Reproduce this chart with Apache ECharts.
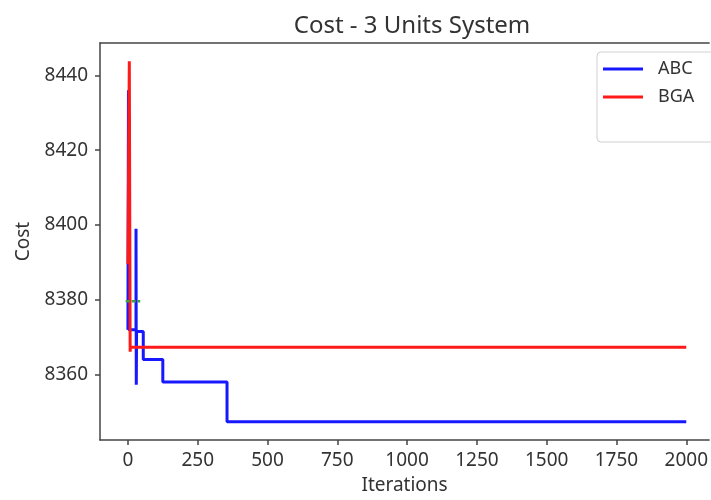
<!DOCTYPE html>
<html lang="en">
<head>
    <meta charset="UTF-8">
    <title>Cost - 3 Units System</title>
    <script src="https://cdn.jsdelivr.net/npm/echarts@6.0.0/dist/echarts.min.js"></script>
    <style>
        body, html {
            margin: 0;
            padding: 0;
            width: 100%;
            height: 100%;
            overflow: hidden;
            background-color: #fff;
        }
        #container {
            width: 711px;
            height: 500px;
        }
    </style>
</head>
<body>
    <div id="container"></div>
    <script>
        // 数据：迭代次数 / 成本（从图上读取的阶梯点）
        var abcIter = [0, 2, 3, 29, 30, 31, 55, 125, 355, 2000];
        var abcCost = [8372, 8436, 8372, 8399, 8357.3, 8371.5, 8364, 8358, 8347.4, 8347.4];

        var bgaIter = [0, 5, 8, 9, 2000];
        var bgaCost = [8389.5, 8443.8, 8366.1, 8367.3, 8367.3];

        // 绿色的短线（没有图例）
        var greenIter = [-8, 44];
        var greenCost = [8379.6, 8379.6];

        var xTicks = [0, 250, 500, 750, 1000, 1250, 1500, 1750, 2000];
        var yTicks = [8360, 8380, 8400, 8420, 8440];

        function pairs(xs, ys) {
            return xs.map(function (x, i) { return [x, ys[i]]; });
        }

        var font = 'Noto Sans';
        var textColor = '#333';
        var frame = { color: '#444', width: 1.5 };

        var option = {
            backgroundColor: '#fff',
            animation: false,
            title: {
                text: 'Cost - 3 Units System',
                left: 407,
                top: 9,
                textAlign: 'center',
                textStyle: { fontFamily: font, fontSize: 24, fontWeight: 'normal', color: textColor }
            },
            legend: {
                data: [{ name: 'ABC', icon: 'rect' }, { name: 'BGA', icon: 'rect' }],
                orient: 'vertical',
                left: 597,
                top: 52,
                padding: [6, 20, 34, 6],
                itemWidth: 40,
                itemHeight: 3,
                itemGap: 6,
                backgroundColor: '#fff',
                borderColor: '#d0d0d0',
                borderWidth: 1,
                borderRadius: 4,
                textStyle: { fontFamily: font, fontSize: 18, color: textColor, padding: [0, 0, 0, 10], lineHeight: 22 }
            },
            grid: {
                left: 100,
                right: 0,
                top: 43,
                bottom: 56
            },
            xAxis: [{
                type: 'value',
                min: -100,
                max: 2082,
                name: 'Iterations',
                nameLocation: 'middle',
                nameGap: 36,
                nameTextStyle: { fontFamily: font, fontSize: 19, color: textColor },
                splitLine: { show: false },
                axisLine: { show: true, onZero: false, lineStyle: frame },
                axisTick: { show: true, length: 5, customValues: xTicks, lineStyle: frame },
                axisLabel: {
                    customValues: xTicks, margin: 11, fontFamily: font, fontSize: 19, color: textColor,
                    formatter: function (v) { return String(v); }
                }
            }, {
                // 上边框
                type: 'value',
                position: 'top',
                min: -100,
                max: 2082,
                splitLine: { show: false },
                axisLine: { show: true, onZero: false, lineStyle: frame },
                axisTick: { show: false },
                axisLabel: { show: false }
            }],
            yAxis: {
                type: 'value',
                min: 8342.5,
                max: 8448.65,
                name: 'Cost',
                nameLocation: 'middle',
                nameGap: 67,
                nameTextStyle: { fontFamily: font, fontSize: 19, color: textColor },
                splitLine: { show: false },
                axisLine: { show: true, onZero: false, lineStyle: frame },
                axisTick: { show: true, length: 5, customValues: yTicks, lineStyle: frame },
                axisLabel: {
                    customValues: yTicks, margin: 12, fontFamily: font, fontSize: 19, color: textColor,
                    formatter: function (v) { return String(v); }
                }
            },
            series: [
                {
                    name: 'ABC',
                    type: 'line',
                    step: 'end',
                    symbol: 'none',
                    data: pairs(abcIter, abcCost),
                    lineStyle: { color: '#1818ff', width: 3 },
                    itemStyle: { color: '#1818ff' },
                    z: 3
                },
                {
                    name: 'BGA',
                    type: 'line',
                    step: 'end',
                    symbol: 'none',
                    data: pairs(bgaIter, bgaCost),
                    lineStyle: { color: '#ff1a1a', width: 3 },
                    itemStyle: { color: '#ff1a1a' },
                    z: 4
                },
                {
                    name: 'green',
                    type: 'line',
                    symbol: 'none',
                    data: pairs(greenIter, greenCost),
                    lineStyle: { color: '#3f9f3f', width: 2.5, type: [4, 2] },
                    z: 5
                }
            ]
        };

        var chart = echarts.init(document.getElementById('container'));
        chart.setOption(option);
    </script>
</body>
</html>
